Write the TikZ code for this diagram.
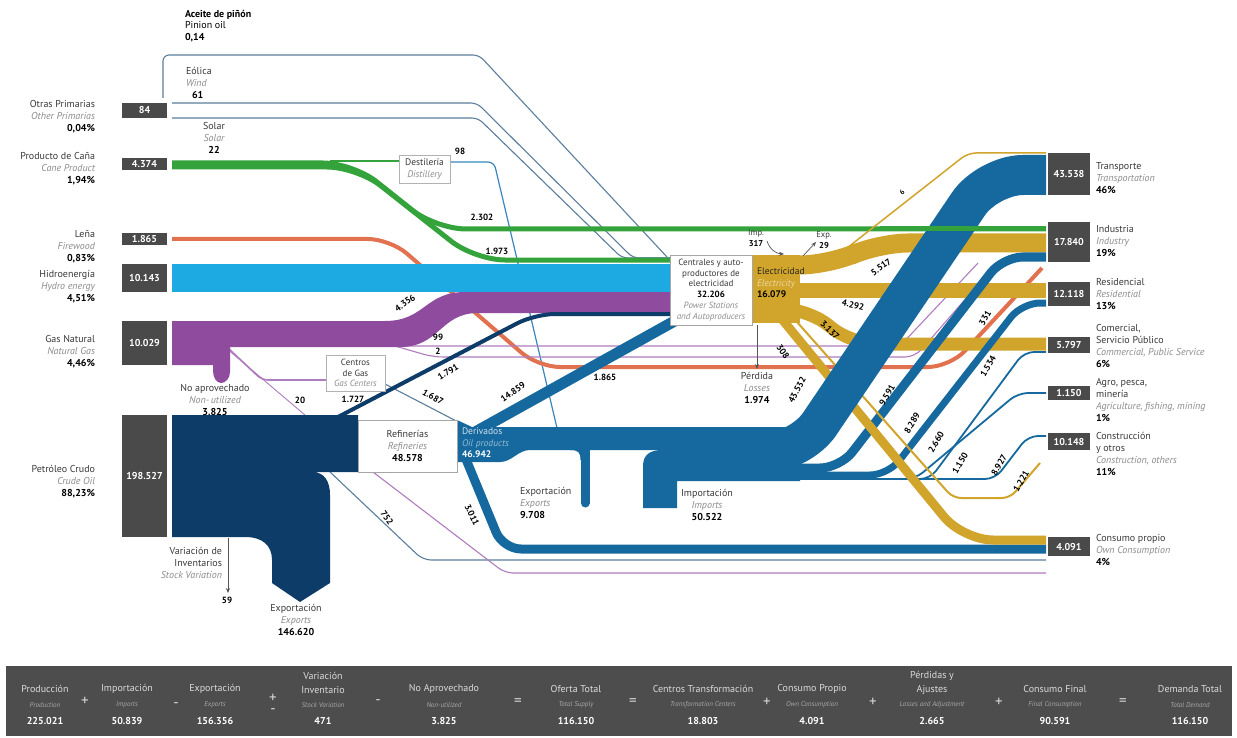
\documentclass[tikz,border=0pt]{standalone}
\usepackage{fontspec}
\setmainfont{PT Sans}
\usetikzlibrary{arrows.meta}
\definecolor{boxg}{HTML}{4A4A4A}
\definecolor{grn}{HTML}{35A33B}
\definecolor{org}{HTML}{E2714F}
\definecolor{hyd}{HTML}{1DA9E1}
\definecolor{pur}{HTML}{8F4B9E}
\definecolor{lpur}{HTML}{B07CC0}
\definecolor{nav}{HTML}{0E3C69}
\definecolor{der}{HTML}{16699E}
\definecolor{gld}{HTML}{D1A42B}
\definecolor{slt}{HTML}{5B7E9C}
\definecolor{tblue}{HTML}{3A86BC}
\definecolor{txt}{HTML}{3A3A3A}
\definecolor{eng}{HTML}{8C8C8C}
\definecolor{barc}{HTML}{4D4D4D}
\definecolor{bart}{HTML}{DADADA}
\definecolor{bars}{HTML}{A8A8A8}
\definecolor{arr}{HTML}{555555}
\newcommand\en[1]{{\itshape\color{eng}#1}}
\newcommand\nb[1]{{\bfseries\color{black}#1}}
\begin{document}
\begin{tikzpicture}[x=1pt,y=-1pt,
  every node/.style={inner sep=0pt, outer sep=0pt},
  lt/.style={font=\fontsize{10}{12}\selectfont, text=txt},
  num/.style={font=\fontsize{9}{10}\selectfont\bfseries, text=black},
  valbox/.style={fill=boxg, text=white, font=\fontsize{10}{11}\selectfont\bfseries, minimum width=45pt},
  rvalbox/.style={fill=boxg, text=white, font=\fontsize{10}{11}\selectfont\bfseries, minimum width=42pt},
  wbox/.style={fill=white, draw=gray!70, line width=0.8pt},
  thin/.style={line width=1.1pt},
  darr/.style={draw=arr, line width=0.7pt, -{Stealth[length=5pt,width=4pt]}},
  bt/.style={font=\fontsize{10}{11}\selectfont, text=bart},
  bs/.style={font=\fontsize{7}{8}\selectfont\itshape, text=bars},
  bv/.style={font=\fontsize{10}{11}\selectfont\bfseries, text=white},
  bop/.style={font=\fontsize{15}{15}\selectfont, text=bart}]
\useasboundingbox (0,0) rectangle (1237,738);
\fill[white] (0,0) rectangle (1237,738);

% ---------- thin background lines ----------
\draw[slt, thin, rounded corners=6] (163,98) -- (163,55) -- (479,55) -- (667,257);
\draw[slt, thin, rounded corners=6] (172,103) -- (477,103) -- (633,258) -- (670,258);
\draw[slt, thin, rounded corners=6] (172,118) -- (478,118) -- (622,258) -- (670,258);
\draw[tblue, line width=1.2pt, rounded corners=6] (450,162) -- (494,162) -- (557,428);
\draw[org, line width=4pt, rounded corners=22] (172,239) -- (390,239) -- (538,367) -- (950,367) -- (1042,268);
\draw[lpur, thin, rounded corners=14] (392,346) -- (900,346) -- (978,263);
\draw[lpur, thin, rounded corners=10] (395,346) -- (433,357) -- (915,357) -- (995,265);
\draw[lpur, line width=1.6pt, rounded corners=6] (228,348) -- (262,380) -- (326,380);
\draw[lpur, line width=0.9pt] (226,348) -- (305,415);
\draw[slt, thin] (385,384) -- (462,424);
\draw[slt, thin, rounded corners=8] (330,472) -- (423,560) -- (1046,560);
\draw[lpur, thin, rounded corners=8] (373,472) -- (505,573) -- (1046,573);

% ---------- primary bands ----------
\draw[grn, line width=1.3pt] (330,161) -- (399,161);
\draw[grn, line width=5pt, rounded corners=30] (172,163) -- (353,163) -- (436,229) -- (1046,229);
\draw[grn, line width=5pt, rounded corners=30] (172,167) -- (357,167) -- (475,260) -- (670,260);
\fill[hyd] (172,264) rectangle (670,292);
\fill[pur] (172,321) -- (385,321) .. controls (425,321) and (425,292) .. (465,292) -- (670,292)
  -- (670,313) -- (478,313) .. controls (440,313) and (440,347) .. (400,347) -- (230,347)
  -- (230,372) .. controls (230,379) and (225,383) .. (221,383) .. controls (217,383) and (213,378) .. (213,371)
  -- (213,365) -- (172,365) -- cycle;
\draw[nav, line width=4pt, rounded corners=20] (338,417) -- (535,314) -- (670,314);
\fill[nav] (172,415) -- (358,415) -- (358,472) -- (312,472) .. controls (325,472) and (330,482) .. (330,495)
  -- (330,583) -- (300,602) -- (272,583) -- (272,560) .. controls (272,545) and (262,537) .. (245,537)
  -- (172,537) -- cycle;

% ---------- oil products ----------
\fill[der] (457,420) -- (472,427) -- (700,427) -- (700,450) -- (530,450) .. controls (518,450) and (512,462) .. (500,462) -- (457,462) -- cycle;
\fill[der] (643,508) -- (643,466) .. controls (643,455) and (650,450) .. (662,450) -- (800,450) -- (800,481) -- (677,481) -- (677,508) -- cycle;
\fill[der] (690,427) rectangle (800,450);
\draw[der, line width=9pt, line cap=round] (585,448) -- (585,503);
\fill[der] (570,450) .. controls (578,450) and (580.5,452) .. (580.5,460) -- (586,460) -- (586,449) -- cycle;
\draw[der, line width=11pt] (468,436) -- (680,318);
\draw[der, line width=9pt, rounded corners=18] (463,452) -- (503,549) -- (1046,549);

% ---------- electricity ----------
\fill[gld] (752,255) rectangle (800,323);
\draw[gld, line width=1.5pt, rounded corners=8] (800,259) -- (833,259) -- (968,153) -- (1046,153);
\draw[gld, line width=19pt, rounded corners=30] (795,265) -- (830,265) -- (878,243) -- (1046,243);
\draw[gld, line width=15pt] (795,290) -- (1046,290);
\draw[gld, line width=13pt, rounded corners=25] (795,309) -- (808,309) -- (852,344) -- (1046,344);

% ---------- final consumption blue lines ----------
\draw[der, line width=9pt, rounded corners=20] (790,468) -- (840,468) -- (1003,257) -- (1046,257);
\draw[der, line width=7pt, rounded corners=18] (790,475) -- (888,475) -- (1022,303) -- (1046,303);
\draw[der, line width=1.8pt, rounded corners=10] (790,479) -- (930,479) -- (1024,352) -- (1046,352);
\draw[der, line width=1.8pt, rounded corners=10] (790,479) -- (915,479) -- (1018,393) -- (1046,393);
\draw[der, line width=1.8pt, rounded corners=10] (790,479) -- (995,479) -- (1028,436) -- (1046,436);

\draw[gld, line width=9pt, rounded corners=30] (781,318) -- (963,540) -- (1046,540);
\draw[gld, line width=2pt, rounded corners=8] (797,322) -- (953,498) -- (1010,498) -- (1040,463);

\draw[der, line width=40pt, rounded corners=35] (700,453) -- (800,453) -- (988,175) -- (1046,175);
\draw[grn, line width=5pt] (880,229) -- (1046,229);

% ---------- process boxes ----------
\node[wbox, minimum width=82pt, minimum height=70pt, anchor=north west] (ps) at (670,255) {};
\node[font=\fontsize{9}{10.8}\selectfont, text=txt, align=center] (pst) at (711,290)
  {Centrales y auto-\\productores de\\electricidad\\\nb{32.206}\\\en{Power Stations}\\\en{and Autoproducers}};
\node[wbox, minimum width=99pt, minimum height=52pt, anchor=north west] (ref) at (358,420) {};
\node[lt, align=center] (reft) at (407.5,446) {Refinerías\\\en{Refineries}\\\nb{48.578}};
\node[wbox, draw=gray!60, line width=0.6pt, minimum width=59pt, minimum height=36pt, anchor=north west] (gc) at (326,355) {};
\node[font=\fontsize{9}{10.8}\selectfont, text=txt, align=center] (gct) at (355.5,373) {Centros\\de Gas\\\en{Gas Centers}};
\node[wbox, draw=gray!60, line width=0.6pt, minimum width=51pt, minimum height=28pt, anchor=north west] (dst) at (399,155) {};
\node[font=\fontsize{9.5}{12}\selectfont, text=txt, align=center] (dstt) at (424.5,169) {Destilería\\\en{Distillery}};

\node[font=\fontsize{9.5}{11.5}\selectfont, text=black!85, align=left, anchor=north west] (elt) at (757,268)
  {Electricidad\\{\itshape\color{gld!45!white}Electricity}\\\nb{16.079}};
\node[font=\fontsize{9.5}{11.5}\selectfont, align=left, anchor=north west] (dert) at (462,428)
  {{\color{der!20!white}Derivados}\\{\itshape\color{der!45!white}Oil products}\\{\bfseries\color{white}46.942}};

% ---------- arrows ----------
\coordinate (impA) at (767,241); \coordinate (impB) at (784,254);
\draw[darr] (impA) to[bend right=35] (impB);
\coordinate (expA) at (803,256); \coordinate (expB) at (816,242);
\draw[darr] (expA) -- (expB);
\coordinate (losA) at (757,325); \coordinate (losB) at (757,369);
\draw[darr] (losA) -- (losB);
\coordinate (stvA) at (228,538); \coordinate (stvB) at (228,593);
\draw[darr] (stvA) -- (stvB);

% ---------- value boxes ----------
\node[valbox, minimum height=15pt] (bOP) at (144.5,110.5) {84};
\node[valbox, minimum height=12pt] (bCP) at (144.5,164) {4.374};
\node[valbox, minimum height=12pt] (bLE) at (144.5,239) {1.865};
\node[valbox, minimum height=28pt] (bHY) at (144.5,278) {10.143};
\node[valbox, minimum height=44pt] (bGN) at (144.5,343) {10.029};
\node[valbox, minimum height=122pt] (bPC) at (144.5,476) {198.527};
\node[rvalbox, minimum height=42pt] (bTR) at (1069,174) {43.538};
\node[rvalbox, minimum height=40pt] (bIN) at (1069,242) {17.840};
\node[rvalbox, minimum height=24pt] (bRE) at (1069,294) {12.118};
\node[rvalbox, minimum height=16pt] (bCO) at (1069,345) {5.797};
\node[rvalbox, minimum height=14pt] (bAG) at (1069,393) {1.150};
\node[rvalbox, minimum height=17pt] (bCN) at (1069,441.5) {10.148};
\node[rvalbox, minimum height=19pt] (bOC) at (1069,546.5) {4.091};

% ---------- left labels ----------
\node[lt, align=right, anchor=north east] (lOP) at (95,100.5) {Otras Primarias\\\en{Other Primarias}\\\nb{0,04\%}};
\node[lt, align=right, anchor=north east] (lCP) at (95,152.5) {Producto de Caña\\\en{Cane Product}\\\nb{1,94\%}};
\node[lt, align=right, anchor=north east] (lLE) at (95,230.5) {Leña\\\en{Firewood}\\\nb{0,83\%}};
\node[lt, align=right, anchor=north east] (lHY) at (95,270.5) {Hidroenergía\\\en{Hydro energy}\\\nb{4,51\%}};
\node[lt, align=right, anchor=north east] (lGN) at (95,335.5) {Gas Natural\\\en{Natural Gas}\\\nb{4,46\%}};
\node[lt, align=right, anchor=north east] (lPC) at (95,465.5) {Petróleo Crudo\\\en{Crude Oil}\\\nb{88,23\%}};

% ---------- right labels ----------
\node[lt, align=left, anchor=north west] (rTR) at (1096,162.5) {Transporte\\\en{Transportation}\\\nb{46\%}};
\node[lt, align=left, anchor=north west] (rIN) at (1096,225.5) {Industria\\\en{Industry}\\\nb{19\%}};
\node[lt, align=left, anchor=north west] (rRE) at (1096,278.5) {Residencial\\\en{Residential}\\\nb{13\%}};
\node[lt, align=left, anchor=north west] (rCO) at (1096,324.5) {Comercial,\\Servicio Público\\\en{Commercial, Public Service}\\\nb{6\%}};
\node[lt, align=left, anchor=north west] (rAG) at (1096,378.5) {Agro, pesca,\\minería\\\en{Agriculture, fishing, mining}\\\nb{1\%}};
\node[lt, align=left, anchor=north west] (rCN) at (1096,432.5) {Construcción\\y otros\\\en{Construction, others}\\\nb{11\%}};
\node[lt, align=left, anchor=north west] (rOC) at (1096,534.5) {Consumo propio\\\en{Own Consumption}\\\nb{4\%}};

% ---------- other labels ----------
\node[font=\fontsize{10}{11.5}\selectfont, align=left, anchor=north west] (lPO) at (185,10) {\textbf{Aceite de piñón}\\Pinion oil\\\textbf{0,14}};
\node[lt, align=left, anchor=north west] (lWI) at (186,67) {Eólica\\\en{Wind}\\\hspace*{6pt}\nb{61}};
\node[lt, align=center, anchor=north] (lSO) at (214,122) {Solar\\\en{Solar}\\\nb{22}};
\node[lt, align=center, anchor=north] (lNA) at (215,384) {No aprovechado\\\en{Non-\,utilized}\\\nb{3.825}};
\node[lt, align=right, anchor=north east] (lSV) at (222,547) {Variación de\\Inventarios\\\en{Stock Variation}};
\node[num] (l59) at (227,600) {59};
\node[lt, align=center, anchor=north] (lEX) at (296,604) {Exportación\\\en{Exports}\\\nb{146.620}};
\node[lt, align=left, anchor=north west] (lEX2) at (520,487) {Exportación\\\en{Exports}\\\nb{9.708}};
\node[lt, align=center, anchor=north] (lIM) at (707,489) {Importación\\\en{Imports}\\\nb{50.522}};
\node[lt, align=center, anchor=north] (lLO) at (757,372) {Pérdida\\\en{Losses}\\\nb{1.974}};
\node[font=\fontsize{8.5}{10.5}\selectfont, text=txt, align=center, anchor=north] (lIMP) at (756,230) {Imp.\\\nb{317}};
\node[font=\fontsize{8.5}{10.5}\selectfont, text=txt, align=center, anchor=north] (lEXP) at (824,232) {Exp.\\\nb{29}};

\node[num] (n98) at (460,151) {98};
\node[num] (n2302) at (482,217) {2.302};
\node[num] (n1973) at (497,251) {1.973};
\node[num, rotate=35] (n4356) at (405,303) {4.356};
\node[num] (n99) at (438,337) {99};
\node[num] (n2) at (438,351) {2};
\node[num, rotate=32] (n1791) at (448,372) {1.791};
\node[num, rotate=-30] (n1687) at (433,397) {1.687};
\node[num, rotate=35] (n14859) at (513,392) {14.859};
\node[num] (n1865) at (605,377) {1.865};
\node[num] (n20) at (300,400) {20};
\node[num] (n1727) at (353,399) {1.727};
\node[num, rotate=-55] (n752) at (387,518) {752};
\node[num, rotate=-65] (n3011) at (472,515) {3.011};
\node[num, rotate=62] (n43532) at (797,390) {43.532};
\node[num, rotate=60] (n9591) at (887,395) {9.591};
\node[num, rotate=60] (n8289) at (912,423) {8.289};
\node[num, rotate=60] (n2660) at (936,442) {2.660};
\node[num, rotate=60] (n1150) at (960,463) {1.150};
\node[num, rotate=60] (n8927) at (999,465) {8.927};
\node[num, rotate=60] (n1221) at (1021,481) {1.221};
\node[num, rotate=60] (n1534) at (988,366) {1.534};
\node[num, rotate=60] (n331) at (985,318) {331};
\node[num, rotate=35] (n5517) at (881,267) {5.517};
\node[num, rotate=-12] (n4292) at (853,305) {4.292};
\node[num, rotate=-45] (n3137) at (830,330) {3.137};
\node[num, rotate=-55] (n308) at (783,352) {308};
\node[font=\fontsize{7}{8}\selectfont\bfseries, rotate=45] (n6) at (902,192) {6};

% ---------- bottom bar ----------
\fill[barc] (6,666) rectangle (1232,736);
\node[bt] (t1) at (45,689) {Producción};
\node[bs] (s1) at (45,705) {Production};
\node[bv] (v1) at (45,721) {225.021};
\node[bop] (o1) at (85,701) {+};
\node[bt] (t2) at (127,689) {Importación};
\node[bs] (s2) at (127,705) {Imports};
\node[bv] (v2) at (127,721) {50.839};
\node[bop] (o2) at (176,705) {-};
\node[bt] (t3) at (215,689) {Exportación};
\node[bs] (s3) at (215,705) {Exports};
\node[bv] (v3) at (215,721) {156.356};
\node[bop] (o3a) at (273,698) {+};
\node[bop] (o3b) at (273,711) {-};
\node[bt] (t4a) at (323,676) {Variación};
\node[bt] (t4b) at (323,690) {Inventario};
\node[bs] (s4) at (323,705) {Stock Variation};
\node[bv] (v4) at (323,721) {471};
\node[bop] (o4) at (378,702) {-};
\node[bt] (t5) at (444,689) {No Aprovechado};
\node[bs] (s5) at (444,705) {Non-utilized};
\node[bv] (v5) at (444,721) {3.825};
\node[bop] (o5) at (518,702) {=};
\node[bt] (t6) at (576,689) {Oferta Total};
\node[bs] (s6) at (576,705) {Total Supply};
\node[bv] (v6) at (576,721) {116.150};
\node[bop] (o6) at (633,702) {=};
\node[bt] (t7) at (703,689) {Centros Transformación};
\node[bs] (s7) at (703,705) {Transformation Centers};
\node[bv] (v7) at (703,721) {18.803};
\node[bop] (o7) at (767,702) {+};
\node[bt] (t8) at (812,689) {Consumo Propio};
\node[bs] (s8) at (812,705) {Own Consumption};
\node[bv] (v8) at (812,721) {4.091};
\node[bop] (o8) at (873,702) {+};
\node[bt] (t9a) at (932,676) {Pérdidas y};
\node[bt] (t9b) at (932,690) {Ajustes};
\node[bs] (s9) at (932,705) {Losses and Adjustment};
\node[bv] (v9) at (932,721) {2.665};
\node[bop] (o9) at (999,702) {+};
\node[bt] (t10) at (1055,689) {Consumo Final};
\node[bs] (s10) at (1055,705) {Final Consumption};
\node[bv] (v10) at (1055,721) {90.591};
\node[bop] (o10) at (1123,702) {=};
\node[bt] (t11) at (1190,689) {Demanda Total};
\node[bs] (s11) at (1190,705) {Total Demand};
\node[bv] (v11) at (1190,721) {116.150};
\end{tikzpicture}
\end{document}
